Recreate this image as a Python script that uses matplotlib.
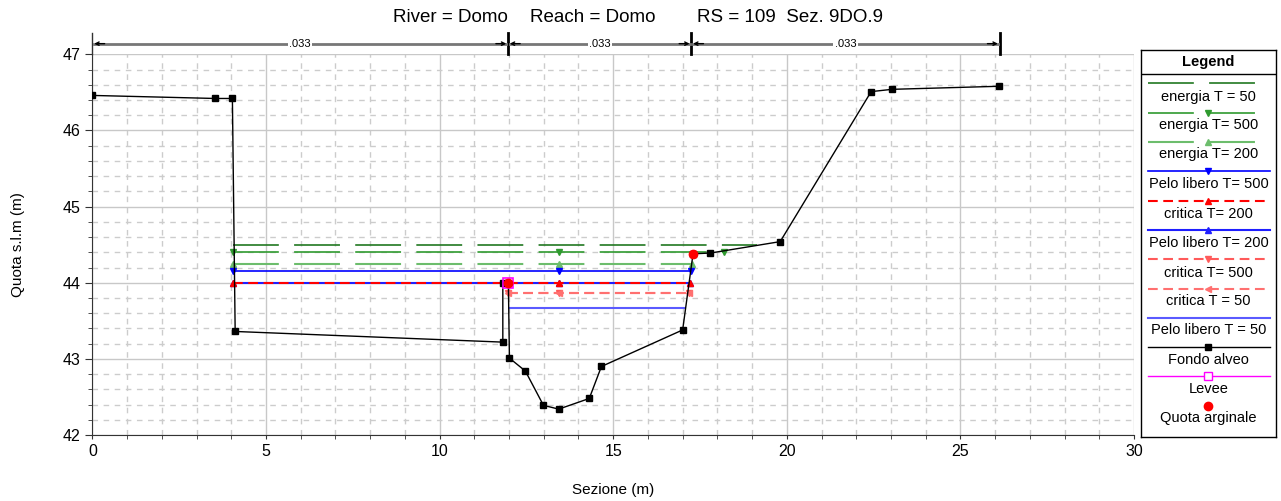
import matplotlib
matplotlib.use("Agg")
import matplotlib.pyplot as plt
from matplotlib.ticker import MultipleLocator

plt.rcParams['font.family'] = ['Liberation Sans', 'DejaVu Sans']
plt.rcParams['lines.scale_dashes'] = False

# Fondo alveo (sezione)
terrain_x = [0, 3.53, 4.03, 4.11, 11.82, 11.82, 11.98, 12.01, 12.47, 12.99, 13.43,
             14.31, 14.66, 17.0, 17.3, 17.8, 19.81, 22.43, 23.03, 26.1]
terrain_y = [46.46, 46.42, 46.42, 43.36, 43.22, 43.99, 43.99, 43.01, 42.84, 42.39, 42.34,
             42.48, 42.90, 43.38, 44.38, 44.39, 44.54, 46.51, 46.54, 46.58]

# profili (x estremi + punto intermedio, quota)
en50_x, en50_y = [4.05, 19.14], 44.49
en500_x, en500_y = [4.05, 13.43, 18.18], 44.41
en200_x, en200_y = [4.05, 13.43, 17.27], 44.25
pl500_x, pl500_y = [4.05, 13.43, 17.24], 44.15
cr200_x, cr200_y = [4.06, 13.43, 17.22], 43.99
pl200_x, pl200_y = [4.06, 13.43, 17.22], 43.99
cr500_x, cr500_y = [11.98, 13.43, 17.19], 43.87
cr50_x, cr50_y = [11.98, 13.43, 17.19], 43.87
pl50_x, pl50_y = [12.02, 17.05], 43.67

levee_x, levee_y = [11.98], [43.99]
argine_x, argine_y = [11.98, 17.3], [43.99, 44.38]

# Manning n
n_bounds = [0, 11.97, 17.25, 26.13]
n_labels = [".033", ".033", ".033"]

legend_names = ["energia T = 50", "energia T= 500", "energia T= 200", "Pelo libero T= 500",
                "critica T= 200", "Pelo libero T= 200", "critica T= 500", "critica T = 50",
                "Pelo libero T = 50", "Fondo alveo", "Levee", "Quota arginale"]

long_dash = (0, (33, 11))
red_dash = (0, (7, 4))
styles = [
    dict(color="#217821", ls=long_dash, lw=1.2, marker=None),
    dict(color="#2f9a2f", ls=long_dash, lw=1.2, marker="v"),
    dict(color="#6cbd6c", ls=long_dash, lw=1.5, marker="^"),
    dict(color="#0000ff", ls="-", lw=1.2, marker="v"),
    dict(color="#ff0000", ls=red_dash, lw=1.5, marker="^"),
    dict(color="#1f1fff", ls="-", lw=1.5, marker="^"),
    dict(color="#ff5a5a", ls=red_dash, lw=1.5, marker="v"),
    dict(color="#ff7070", ls=red_dash, lw=1.5, marker="<"),
    dict(color="#5a5aff", ls="-", lw=1.5, marker=None),
]

fig = plt.figure(figsize=(12.81, 5.01), dpi=100)
ax = fig.add_axes([0.0722, 0.1317, 0.8130, 0.7599])

series = [(en50_x, en50_y), (en500_x, en500_y), (en200_x, en200_y), (pl500_x, pl500_y),
          (cr200_x, cr200_y), (pl200_x, pl200_y), (cr500_x, cr500_y), (cr50_x, cr50_y),
          (pl50_x, pl50_y)]
zorders = [3, 3, 3, 3, 5, 4, 5, 5, 3]
for (xs, yv), st, z in zip(series, styles, zorders):
    ax.plot(xs, [yv] * len(xs), color=st["color"], ls=st["ls"], lw=st["lw"],
            marker=st["marker"], ms=4.5, zorder=z)

ax.plot(terrain_x, terrain_y, color="black", lw=1.0, marker="s", ms=4, zorder=6)
ax.plot(levee_x, levee_y, ls="none", marker="s", ms=7, mfc="none", mec="magenta", mew=1.2, zorder=7)
ax.plot(argine_x, argine_y, ls="none", marker="o", ms=6, color="red", zorder=7)

ax.set_xlim(0, 30)
ax.set_ylim(42, 47)
ax.xaxis.set_major_locator(MultipleLocator(5))
ax.xaxis.set_minor_locator(MultipleLocator(1))
ax.yaxis.set_major_locator(MultipleLocator(1))
ax.yaxis.set_minor_locator(MultipleLocator(0.2))
ax.grid(which="major", color="#c8c8c8", lw=1, ls="-")
ax.grid(which="minor", color="#cccccc", lw=1, ls=(0, (4, 4)))
ax.set_axisbelow(True)
for s in ["top", "right"]:
    ax.spines[s].set_visible(False)
for s in ["left", "bottom"]:
    ax.spines[s].set_color("#333333")
ax.tick_params(axis="both", which="major", direction="out", labelsize=11.5, color="#333333")
ax.tick_params(axis="y", which="major", length=5)
ax.tick_params(axis="y", which="minor", length=3, color="#333333")
ax.tick_params(axis="x", which="both", length=3, color="#333333")
ax.set_xlabel("Sezione (m)", fontsize=11, labelpad=17)
ax.set_ylabel("Quota s.l.m (m)", fontsize=11, labelpad=27)

# annotazioni n di Manning sopra il grafico
ya, ytop = 47.14, 47.28
ax.plot([0, 0], [47, ytop], color="#333333", lw=1, clip_on=False)
for xb in n_bounds[1:]:
    ax.plot([xb, xb], [47, ytop], color="black", lw=2, clip_on=False)
for x0, x1, lab in zip(n_bounds[:-1], n_bounds[1:], n_labels):
    ax.plot([x0 + 0.05, x1 - 0.05], [ya, ya], color="#777777", lw=2, clip_on=False)
    for xa, xb in [(x0 + 0.05, x0 + 0.35), (x1 - 0.05, x1 - 0.35)]:
        ax.annotate("", xy=(xa, ya), xytext=(xb, ya), annotation_clip=False,
                    arrowprops=dict(arrowstyle="->", color="black", lw=1,
                                    shrinkA=0, shrinkB=0, mutation_scale=6))
    ax.text((x0 + x1) / 2, ya, lab, fontsize=8, ha="center", va="center",
            bbox=dict(fc="white", ec="none", pad=1), clip_on=False)

fig.text(393 / 1281, 1 - 18 / 501, "River = Domo", fontsize=13.5, va="center")
fig.text(530 / 1281, 1 - 18 / 501, "Reach = Domo", fontsize=13.5, va="center")
fig.text(697 / 1281, 1 - 18 / 501, "RS = 109  Sez. 9DO.9", fontsize=13.5, va="center")

# legenda disegnata a mano (stile HEC-RAS)
lg = fig.add_axes([1141 / 1281, 1 - 437 / 501, 135 / 1281, 387 / 501])
lg.set_xlim(1141, 1276)
lg.set_ylim(437, 50)
lg.set_xticks([])
lg.set_yticks([])
for s in lg.spines.values():
    s.set_color("black")
    s.set_linewidth(1)
lg.text(1208.5, 62.5, "Legend", fontsize=10.5, fontweight="bold", ha="center", va="center")
lg.plot([1141, 1276], [74, 74], color="black", lw=1)

line_y = [83.3, 112.7, 141.7, 170.7, 200.7, 230, 259.3, 289, 317.7, 346.7, 376, 405.7]
text_y = [96.7, 125, 154.3, 184.3, 214.3, 242.7, 272.7, 300.7, 330, 360, 389, 418.3]
for i, name in enumerate(legend_names):
    if i < 3:
        lg.plot([1148, 1257], [line_y[i]] * 2, color=styles[i]["color"], ls=styles[i]["ls"], lw=styles[i]["lw"])
        if styles[i]["marker"]:
            lg.plot([1208], [line_y[i]], marker=styles[i]["marker"], color=styles[i]["color"], ms=4.5)
    elif i < 9:
        x1 = 1265 if styles[i]["ls"] == red_dash else 1270
        lg.plot([1148, x1], [line_y[i]] * 2, color=styles[i]["color"], ls=styles[i]["ls"], lw=styles[i]["lw"])
        if styles[i]["marker"]:
            lg.plot([1208], [line_y[i]], marker=styles[i]["marker"], color=styles[i]["color"], ms=4.5)
    elif i == 9:
        lg.plot([1148, 1270], [line_y[i]] * 2, color="black", lw=1)
        lg.plot([1208], [line_y[i]], marker="s", color="black", ms=4)
    elif i == 10:
        lg.plot([1148, 1270], [line_y[i]] * 2, color="magenta", lw=1)
        lg.plot([1208], [line_y[i]], marker="s", mfc="white", mec="magenta", ms=6)
    else:
        lg.plot([1208], [line_y[i]], marker="o", color="red", ms=6)
    lg.text(1208.5, text_y[i], name, fontsize=10.5, ha="center", va="center")

fig.savefig("out.png", dpi=100)
